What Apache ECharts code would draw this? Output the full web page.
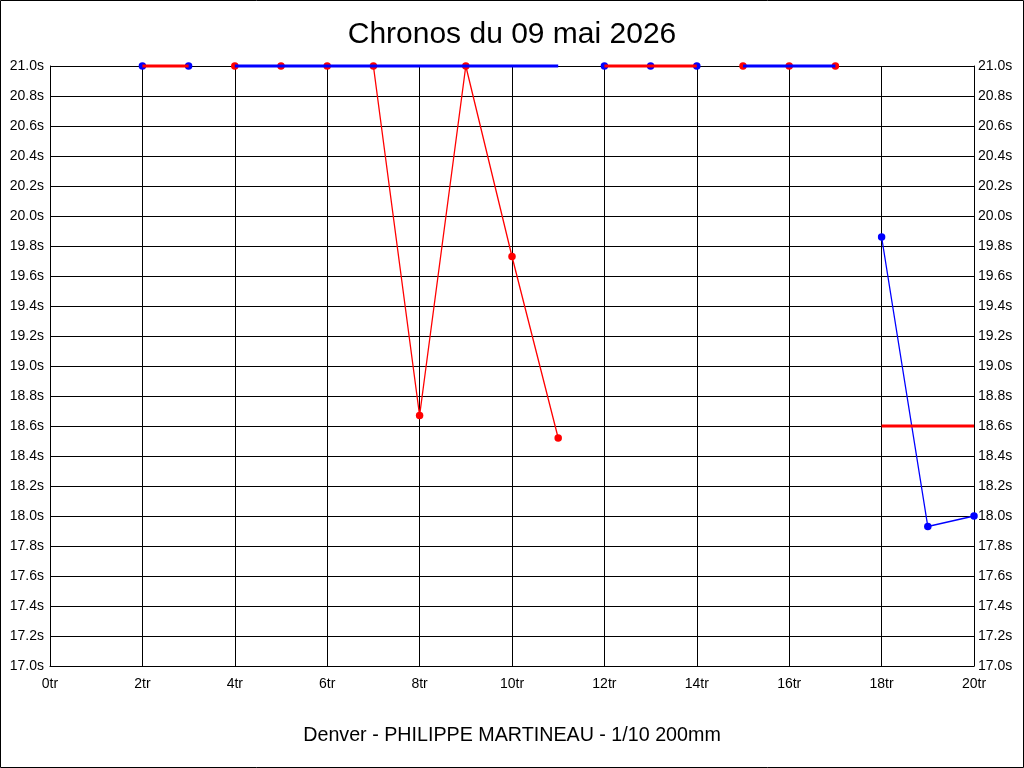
<!DOCTYPE html>
<html lang="fr">
<head>
    <meta charset="UTF-8">
    <title>Chronos du 09 mai 2026</title>
    <script src="https://cdn.jsdelivr.net/npm/echarts@6/dist/echarts.min.js"></script>
    <style>
        html, body { margin: 0; padding: 0; background: #fff; }
        #main { width: 1024px; height: 768px; }
    </style>
</head>
<body>
<div id="main"></div>
<script>
    // tours 0..20, null = pas de point
    var laps = [0, 1, 2, 3, 4, 5, 6, 7, 8, 9, 10, 11, 12, 13, 14, 15, 16, 17, 18, 19, 20];
    var redThick  = [null, null, 21, 21, null, null, null, null, null, null, null, null, 21, 21, 21, null, null, null, 18.6, 18.6, 18.6];
    var blueThick = [null, null, null, null, 21, 21, 21, 21, 21, 21, 21, 21, null, null, null, 21, 21, 21, null, null, null];
    var redThin   = [null, null, null, null, 21, 21, 21, 21, 18.67, 21, 19.73, 18.52, null, null, null, 21, 21, 21, null, null, null];
    var blueThin  = [null, null, 21, 21, null, null, null, null, null, null, null, null, 21, 21, 21, null, null, null, 19.86, 17.93, 18.0];
    var xTicks = { min: 0, max: 20, step: 2 };
    var yTicks = { min: 17, max: 21, step: 0.2 };

    var font = 'Liberation Sans, Arial, sans-serif';

    function pairs(arr) {
        return laps.map(function (l, i) { return [l, arr[i] === null ? '-' : arr[i]]; });
    }
    function points(arr) {
        var out = [];
        laps.forEach(function (l, i) { if (arr[i] !== null) out.push([l, arr[i]]); });
        return out;
    }
    function lineSerie(arr, color, width) {
        return {
            type: 'line', data: pairs(arr), showSymbol: false, clip: false,
            connectNulls: false,
            lineStyle: { color: color, width: width }, itemStyle: { color: color },
            yAxisIndex: 0
        };
    }
    function dotSerie(arr, color) {
        return {
            type: 'scatter', data: points(arr), symbol: 'circle', symbolSize: 7.5, clip: false,
            itemStyle: { color: color, opacity: 1 }, yAxisIndex: 0
        };
    }

    var yAxisBase = {
        type: 'value', min: yTicks.min, max: yTicks.max, interval: yTicks.step,
        axisLine: { show: true, lineStyle: { color: '#000', width: 1 } },
        axisTick: { show: false },
        splitLine: { show: true, lineStyle: { color: '#000', width: 1 } },
        axisLabel: {
            color: '#000', fontSize: 14, fontFamily: font,
            formatter: function (v) { return v.toFixed(1) + 's'; }
        }
    };

    var chart = echarts.init(document.getElementById('main'));
    chart.setOption({
        animation: false,
        backgroundColor: '#fff',
        title: [
            { text: 'Chronos du 09 mai 2026', left: 'center', top: 15,
              textStyle: { color: '#000', fontSize: 30, fontWeight: 'normal', fontFamily: font } },
            { text: 'Denver - PHILIPPE MARTINEAU - 1/10 200mm', left: 'center', top: 721,
              textStyle: { color: '#000', fontSize: 19.7, fontWeight: 'normal', fontFamily: font } }
        ],
        grid: { left: 50, right: 50, top: 66, bottom: 102 },
        xAxis: {
            type: 'value', min: xTicks.min, max: xTicks.max, interval: xTicks.step,
            axisLine: { show: true, onZero: false, lineStyle: { color: '#000', width: 1 } },
            axisTick: { show: false },
            splitLine: { show: true, lineStyle: { color: '#000', width: 1 } },
            axisLabel: { color: '#000', fontSize: 14, fontFamily: font, margin: 11,
                formatter: function (v) { return v + 'tr'; } }
        },
        yAxis: [
            Object.assign({}, yAxisBase, { position: 'left',
                axisLabel: Object.assign({}, yAxisBase.axisLabel, { margin: 6 }) }),
            Object.assign({}, yAxisBase, { position: 'right', splitLine: { show: false },
                axisLabel: Object.assign({}, yAxisBase.axisLabel, { margin: 4 }) })
        ],
        graphic: [{
            type: 'rect', shape: { x: 0.5, y: 0.5, width: 1023, height: 767 },
            style: { fill: 'none', stroke: '#000', lineWidth: 1 }, z: 100
        }],
        series: [
            lineSerie(redThin, '#ff0000', 1.3),
            lineSerie(blueThin, '#0000ff', 1.3),
            lineSerie(redThick, '#ff0000', 3),
            lineSerie(blueThick, '#0000ff', 3),
            dotSerie(redThin, '#ff0000'),
            dotSerie(blueThin, '#0000ff')
        ]
    });
</script>
</body>
</html>
